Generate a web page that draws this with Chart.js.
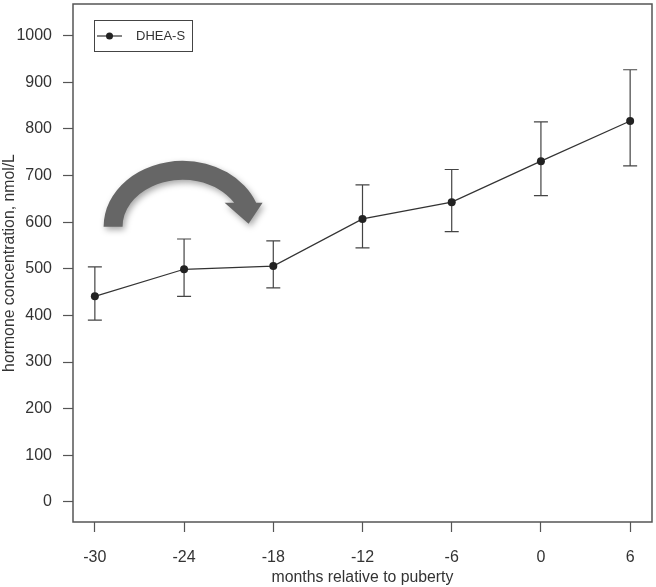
<!DOCTYPE html>
<html>
<head>
<meta charset="utf-8">
<script src="https://cdn.jsdelivr.net/npm/chart.js@4.4.0/dist/chart.umd.min.js"></script>
<style>
  html, body { margin: 0; padding: 0; background: #fff; }
  #wrap { width: 656px; height: 587px; }
</style>
</head>
<body>
<div id="wrap"><canvas id="chart"></canvas></div>
<script>
// data
const months = [-30, -24, -18, -12, -6, 0, 6];
const dheas = [441, 499, 506, 607, 643, 731, 817];
const errLow = [390, 441, 459, 545, 580, 657, 721];
const errHigh = [504, 564, 560, 680, 713, 815, 927];

const xTicks = [-30, -24, -18, -12, -6, 0, 6];
const yTicks = [0, 100, 200, 300, 400, 500, 600, 700, 800, 900, 1000];

const axisGrey = '#555';
const textGrey = '#333';

// error bars, drawn through the scales
const errorBars = {
  id: 'errorBars',
  beforeDatasetsDraw(chart) {
    const ctx = chart.ctx;
    const xs = chart.scales.x, ys = chart.scales.y;
    ctx.save();
    ctx.strokeStyle = '#444';
    ctx.lineWidth = 1.2;
    for (let i = 0; i < months.length; i++) {
      const x = xs.getPixelForValue(months[i]);
      const lo = ys.getPixelForValue(errLow[i]);
      const hi = ys.getPixelForValue(errHigh[i]);
      ctx.beginPath();
      ctx.moveTo(x, lo); ctx.lineTo(x, hi);
      ctx.moveTo(x - 7, lo); ctx.lineTo(x + 7, lo);
      ctx.moveTo(x - 7, hi); ctx.lineTo(x + 7, hi);
      ctx.stroke();
    }
    ctx.restore();
  }
};

// box around the plot, legend box and the curved arrow
const frame = {
  id: 'frame',
  afterDraw(chart) {
    const ctx = chart.ctx;
    const a = chart.chartArea;
    const xs = chart.scales.x, ys = chart.scales.y;
    ctx.save();

    // plot box
    ctx.strokeStyle = axisGrey;
    ctx.lineWidth = 1.5;
    ctx.strokeRect(a.left, a.top, a.right - a.left, a.bottom - a.top);

    // legend
    ctx.lineWidth = 1;
    ctx.strokeStyle = '#444';
    ctx.strokeRect(94.5, 20.5, 98, 31);
    ctx.beginPath();
    ctx.moveTo(97, 36); ctx.lineTo(122, 36);
    ctx.strokeStyle = '#333';
    ctx.lineWidth = 1.2;
    ctx.stroke();
    ctx.beginPath();
    ctx.arc(109.5, 36, 3.5, 0, Math.PI * 2);
    ctx.fillStyle = '#222';
    ctx.fill();
    ctx.fillStyle = textGrey;
    ctx.font = '13px "Liberation Sans", Arial, sans-serif';
    ctx.textBaseline = 'middle';
    ctx.fillText(chart.data.datasets[0].label, 136, 36.5);

    // curved arrow, anchored at month -24.1 / 590 nmol/L
    const cx = xs.getPixelForValue(-24.1);
    const cy = ys.getPixelForValue(590);
    const oRx = 79, oRy = 66, iRx = 60, iRy = 47, cut = 24;
    const oEnd = 2 * Math.PI - Math.asin(cut / oRy);
    const iEnd = 2 * Math.PI - Math.asin(cut / iRy);
    ctx.beginPath();
    ctx.moveTo(cx - oRx, cy);
    ctx.ellipse(cx, cy, oRx, oRy, 0, Math.PI, oEnd, false);
    ctx.lineTo(cx + 80, cy - cut);
    ctx.lineTo(cx + 66, cy - 3);
    ctx.lineTo(cx + 42, cy - cut);
    ctx.lineTo(cx + iRx * Math.cos(iEnd), cy - cut);
    ctx.ellipse(cx, cy, iRx, iRy, 0, iEnd, Math.PI, true);
    ctx.closePath();
    ctx.shadowColor = 'rgba(0,0,0,0.35)';
    ctx.shadowBlur = 6;
    ctx.shadowOffsetX = 2;
    ctx.shadowOffsetY = 3;
    ctx.fillStyle = '#666';
    ctx.fill();

    ctx.restore();
  }
};

const data = {
  datasets: [
    {
      label: 'DHEA-S',
      data: months.map((m, i) => ({ x: m, y: dheas[i] })),
      borderColor: '#333',
      borderWidth: 1.2,
      pointRadius: 4,
      pointBackgroundColor: '#222',
      pointBorderWidth: 0,
      tension: 0
    }
  ]
};

const config = {
  type: 'line',
  data: data,
  options: {
    responsive: true,
    maintainAspectRatio: false,
    animation: false,
    layout: {
      padding: { top: 0, right: 1.5, left: 0, bottom: 0 }
    },
    plugins: {
      legend: { display: false },
      tooltip: { enabled: false }
    },
    scales: {
      x: {
        type: 'linear',
        min: -31.47,
        max: 7.47,
        afterBuildTicks: (scale) => { scale.ticks = xTicks.map(v => ({ value: v })); },
        afterFit: (scale) => {
          scale.height = 65;
          scale.paddingLeft = 0;
          scale.paddingRight = 0;
        },
        border: { display: false },
        grid: {
          drawOnChartArea: false,
          drawTicks: true,
          tickLength: 10,
          tickColor: axisGrey,
          tickWidth: 1.2
        },
        ticks: {
          color: textGrey,
          padding: 16,
          maxRotation: 0,
          callback: (v) => String(v),
          font: { family: '"Liberation Sans", Arial, sans-serif', size: 16 }
        },
        title: {
          display: true,
          text: 'months relative to puberty',
          color: textGrey,
          padding: { top: 0, bottom: 0 },
          font: { family: '"Liberation Sans", Arial, sans-serif', size: 15.8 }
        }
      },
      y: {
        min: -43,
        max: 1068,
        afterBuildTicks: (scale) => { scale.ticks = yTicks.map(v => ({ value: v })); },
        afterFit: (scale) => {
          scale.width = 73;
          scale.paddingTop = 0;
          scale.paddingBottom = 0;
        },
        border: { display: false },
        grid: {
          drawOnChartArea: false,
          drawTicks: true,
          tickLength: 10,
          tickColor: axisGrey,
          tickWidth: 1.2
        },
        ticks: {
          color: textGrey,
          padding: 11,
          callback: (v) => String(v),
          font: { family: '"Liberation Sans", Arial, sans-serif', size: 16 }
        },
        title: {
          display: true,
          text: 'hormone concentration, nmol/L',
          color: textGrey,
          padding: { top: 0, bottom: 0 },
          font: { family: '"Liberation Sans", Arial, sans-serif', size: 15.8 }
        }
      }
    }
  },
  plugins: [errorBars, frame]
};

const myChart = new Chart(document.getElementById('chart'), config);
</script>
</body>
</html>
